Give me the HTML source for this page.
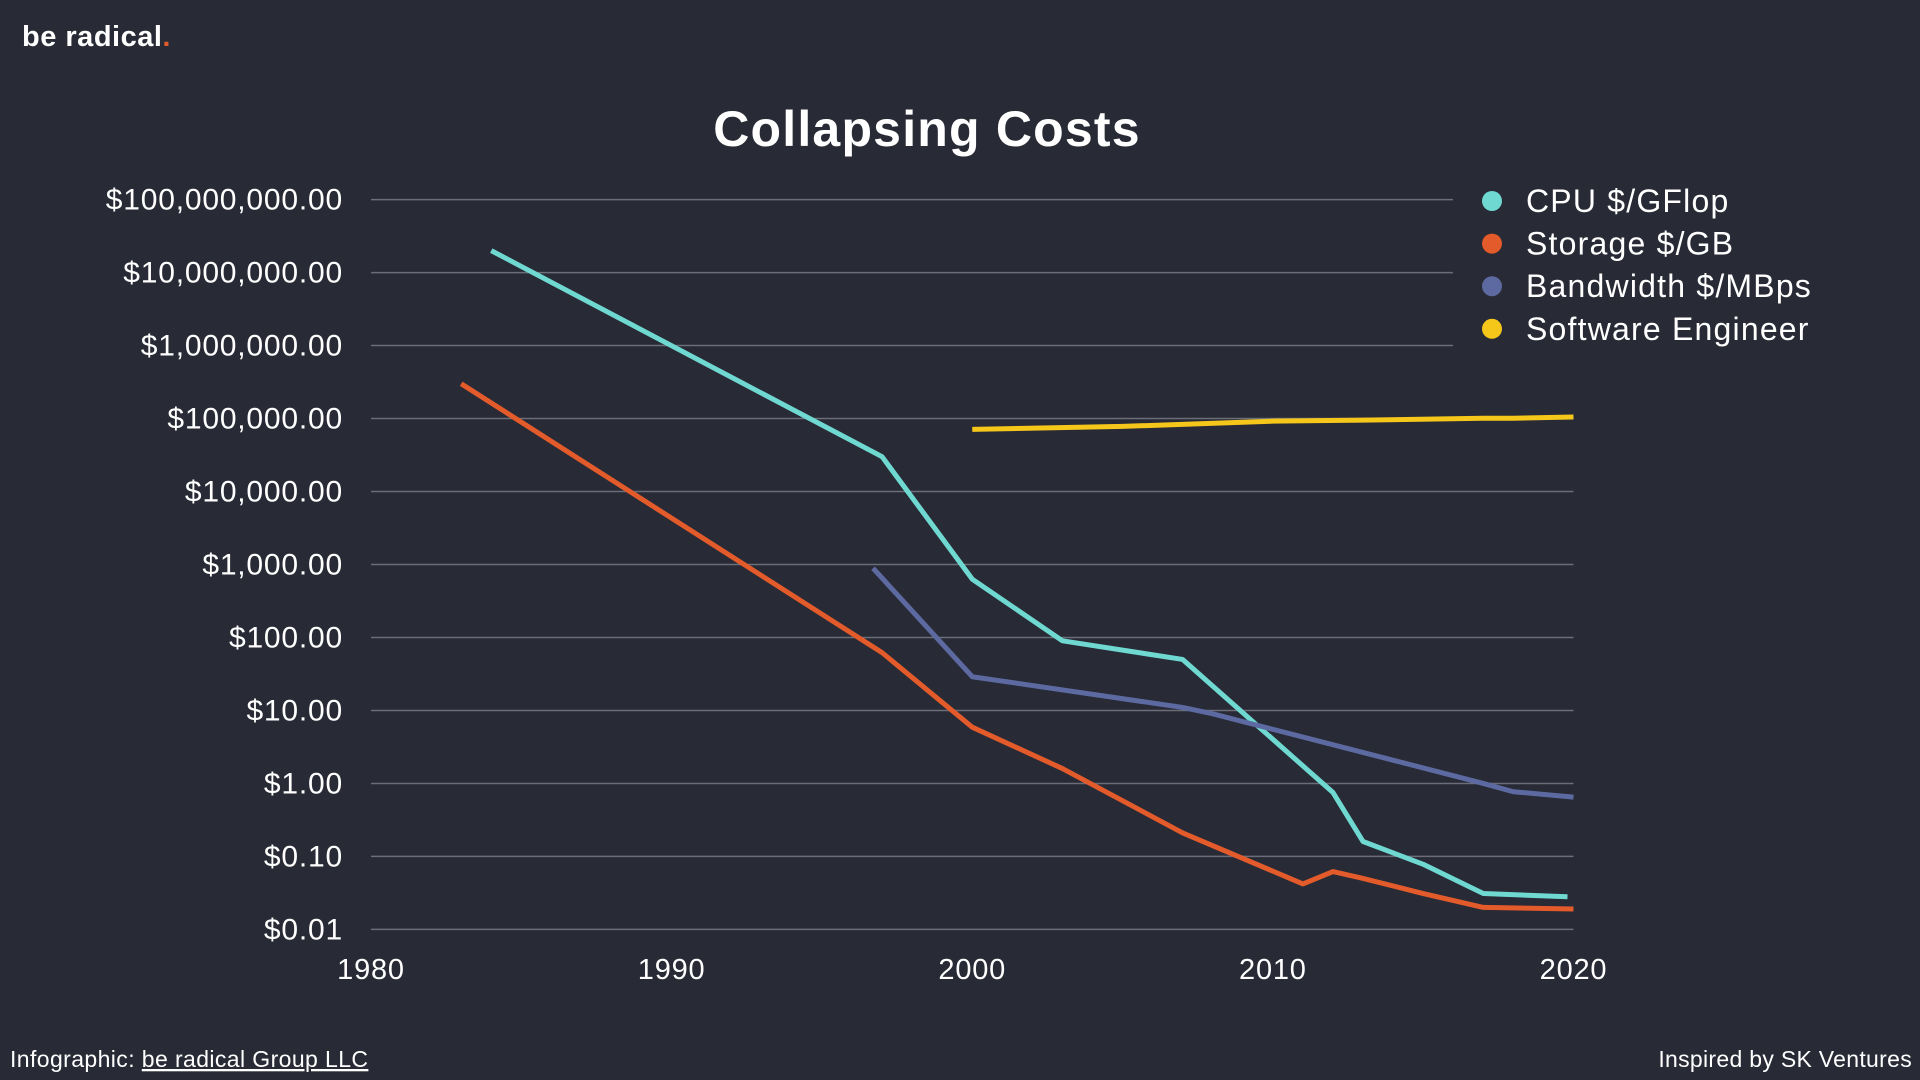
<!DOCTYPE html>
<html><head><meta charset="utf-8"><style>
html,body{margin:0;padding:0;background:#282a35;width:1920px;height:1080px;overflow:hidden;font-family:"Liberation Sans",sans-serif;color:#fff}
svg{position:absolute;left:0;top:0}
</style></head><body>
<svg id="chart" width="1920" height="1080">
<text x="22" y="46" font-size="29" font-weight="bold" fill="#fff" letter-spacing="0.5">be radical<tspan fill="#e05a2b">.</tspan></text>
<text x="927" y="146" font-size="50" font-weight="bold" fill="#fff" text-anchor="middle" letter-spacing="1.2">Collapsing Costs</text>
<g id="grid"></g><g id="ylabels"></g><g id="xlabels"></g><g id="series"></g><g id="legend"></g>
<text x="10" y="1067" font-size="23" fill="#fff" letter-spacing="0.4">Infographic: <tspan text-decoration="underline">be radical Group LLC</tspan></text>
<text x="1912" y="1067" font-size="23" fill="#fff" text-anchor="end" letter-spacing="0.3">Inspired by SK Ventures</text>
</svg>
<script>
const yTickLabels=["$100,000,000.00","$10,000,000.00","$1,000,000.00","$100,000.00","$10,000.00","$1,000.00","$100.00","$10.00","$1.00","$0.10","$0.01"];
const yTickExps=[8,7,6,5,4,3,2,1,0,-1,-2];
const xTicks=[1980,1990,2000,2010,2020];
const cpuYears=[1984,1997,2000,2003,2007,2012,2013,2015,2017,2019.8];
const cpuValues=[2e7,3e4,630,90,50,0.75,0.16,0.078,0.031,0.028];
const storageYears=[1983,1997,2000,2003,2007,2011,2012,2013,2015,2017,2020];
const storageValues=[3e5,62,5.9,1.6,0.21,0.042,0.062,0.05,0.031,0.02,0.019];
const bandwidthYears=[1996.7,2000,2007,2008,2017,2018,2020];
const bandwidthValues=[890,29,11,9,1.0,0.77,0.65];
const engineerYears=[2000,2005,2010,2013,2017,2018,2020];
const engineerValues=[71000,78000,92000,95000,101000,101000,105000];
const seriesNames=["CPU $/GFlop","Storage $/GB","Bandwidth $/MBps","Software Engineer"];
const seriesColors=["#6fd9d1","#e35b2b","#5d6aa1","#f5c71a"];

const X0=371,X1=1573.5,Y0=199.6,Y1=929.4;
const xs=yr=>X0+(yr-1980)/40*(X1-X0);
const ys=v=>Y0+(8-Math.log10(v))/10*(Y1-Y0);
const ye=e=>Y0+(8-e)/10*(Y1-Y0);
const NS="http://www.w3.org/2000/svg";
function mk(t,a,p){const e=document.createElementNS(NS,t);for(const k in a)e.setAttribute(k,a[k]);p.appendChild(e);return e;}
const grid=document.getElementById('grid'),yl=document.getElementById('ylabels'),xl=document.getElementById('xlabels');
yTickExps.forEach((e,i)=>{
 const l=mk('line',{x1:X0,x2:e>=6?1453:X1,y1:ye(e),y2:ye(e),stroke:'#6b6e79','stroke-width':1.5},grid);
 
 
 const t=mk('text',{x:343,y:ye(e)+10,'font-size':30,fill:'#fff','text-anchor':'end','letter-spacing':0.8},yl);
 t.textContent=yTickLabels[i];
 
 
});
xTicks.forEach(v=>{
 const t=mk('text',{x:xs(v),y:979,'font-size':29,fill:'#fff','text-anchor':'middle','letter-spacing':0.8},xl);
 t.textContent=v;
 
 
});
const S=document.getElementById('series');
[[cpuYears,cpuValues],[storageYears,storageValues],[bandwidthYears,bandwidthValues],[engineerYears,engineerValues]].forEach(([yr,v],i)=>{
 const p=mk('polyline',{points:yr.map((y,j)=>xs(y)+','+ys(v[j])).join(' '),fill:'none',stroke:seriesColors[i],'stroke-width':5,'stroke-linejoin':'round'},S);
 
 
});
const L=document.getElementById('legend');
seriesNames.forEach((n,i)=>{
 const y=201+i*42.6;
 const c=mk('circle',{cx:1492,cy:y,r:10,fill:seriesColors[i]},L);
 
 
 const t=mk('text',{x:1526,y:y+11,'font-size':32,fill:'#fff','letter-spacing':1.2},L);
 t.textContent=n;
 
 
});
</script>
</body></html>
